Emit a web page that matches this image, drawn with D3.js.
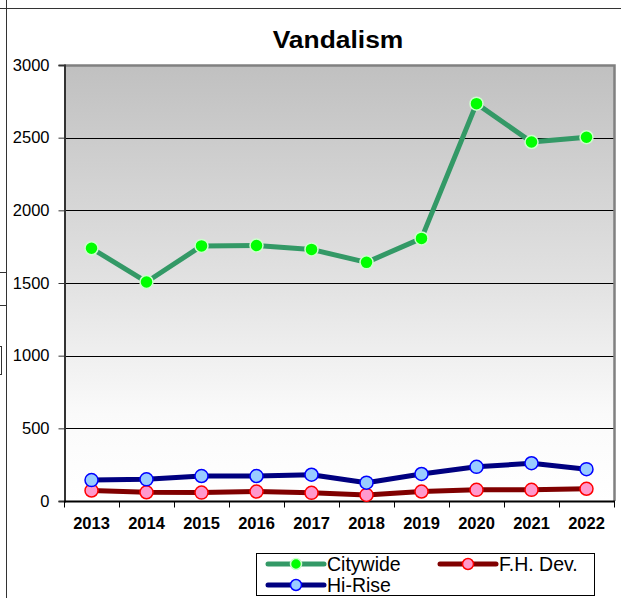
<!DOCTYPE html>
<html>
<head>
<meta charset="utf-8">
<script src="https://cdn.jsdelivr.net/npm/d3@7"></script>
<style>
  html, body { margin: 0; padding: 0; background: #fff; }
  svg { display: block; font-family: "Liberation Sans", Arial, sans-serif; }
</style>
</head>
<body>
<svg id="chart" width="621" height="598"></svg>
<script>
const years = ["2013","2014","2015","2016","2017","2018","2019","2020","2021","2022"];
const citywide = [1739, 1507, 1755, 1758, 1731, 1642, 1807, 2734, 2470, 2503];
const fhDev    = [72, 60, 58, 65, 56, 42, 65, 77, 77, 84];
const hiRise   = [144, 149, 172, 172, 181, 126, 186, 235, 260, 219];
const yTicks   = [0, 500, 1000, 1500, 2000, 2500, 3000];

const series = [
  { name: "Citywide", values: citywide, line: "#339966", fill: "#00ff00", stroke: "#ccffcc" },
  { name: "F.H. Dev.", values: fhDev,   line: "#800000", fill: "#ff99cc", stroke: "#ff0000" },
  { name: "Hi-Rise",  values: hiRise,   line: "#000080", fill: "#99ccff", stroke: "#0000ff" }
];

const svg = d3.select("#chart");
const plot = { left: 64, right: 614, top: 65, bottom: 501 };

// spreadsheet frame lines around the chart object
svg.append("line").attr("x1", 0).attr("x2", 621).attr("y1", 8.5).attr("y2", 8.5)
  .attr("stroke", "#333").attr("stroke-width", 1);
svg.append("line").attr("x1", 6.5).attr("x2", 6.5).attr("y1", 0).attr("y2", 598)
  .attr("stroke", "#333").attr("stroke-width", 1);
svg.append("line").attr("x1", 0).attr("x2", 6).attr("y1", 272.5).attr("y2", 272.5)
  .attr("stroke", "#333").attr("stroke-width", 1);
svg.append("line").attr("x1", 0).attr("x2", 6).attr("y1", 305.5).attr("y2", 305.5)
  .attr("stroke", "#333").attr("stroke-width", 1);
svg.append("rect").attr("x", -1).attr("y", 346.5).attr("width", 2.5).attr("height", 28)
  .attr("fill", "none").attr("stroke", "#333").attr("stroke-width", 1);

const x = d3.scaleBand().domain(years).range([plot.left, plot.right]);
const y = d3.scaleLinear().domain([0, 3000]).range([plot.bottom, plot.top]);

// plot area gradient
const defs = svg.append("defs");
const grad = defs.append("linearGradient").attr("id", "bg")
  .attr("x1", 0).attr("y1", 0).attr("x2", 0).attr("y2", 1);
grad.append("stop").attr("offset", "0%").attr("stop-color", "#c0c0c0");
grad.append("stop").attr("offset", "50%").attr("stop-color", "#e2e2e2");
grad.append("stop").attr("offset", "80%").attr("stop-color", "#fafafa");
grad.append("stop").attr("offset", "100%").attr("stop-color", "#ffffff");

svg.append("rect")
  .attr("x", plot.left).attr("y", plot.top)
  .attr("width", plot.right - plot.left).attr("height", plot.bottom - plot.top)
  .attr("fill", "url(#bg)");

// gridlines
svg.append("g").selectAll("line")
  .data(yTicks.filter(d => d > 0 && d < 3000))
  .join("line")
  .attr("x1", plot.left).attr("x2", plot.right)
  .attr("y1", d => Math.round(y(d)) + 0.5).attr("y2", d => Math.round(y(d)) + 0.5)
  .attr("stroke", "#000").attr("stroke-width", 1);

// plot border (top and right, grey)
svg.append("path")
  .attr("d", `M${plot.left},${plot.top + 0.5} H${plot.right + 0.5} V${plot.bottom}`)
  .attr("fill", "none").attr("stroke", "#808080").attr("stroke-width", 2.5);

// y axis
const yAxis = d3.axisLeft(y).tickValues(yTicks).tickSize(6).tickPadding(9).tickFormat(d3.format("d"));
const gy = svg.append("g").attr("transform", `translate(${plot.left + 0.5},0)`).call(yAxis);
gy.select(".domain").attr("stroke", "#333").attr("stroke-width", 2);
gy.selectAll(".tick line").attr("stroke", "#333");
gy.selectAll(".tick text").attr("font-size", 16.5).attr("fill", "#000")
  .attr("font-family", "'Liberation Sans', Arial, sans-serif");

// x axis: ticks at category boundaries
const gx = svg.append("g").attr("transform", `translate(0,${plot.bottom + 0.5})`);
gx.append("line").attr("x1", plot.left).attr("x2", plot.right + 1)
  .attr("stroke", "#000").attr("stroke-width", 2);
const bounds = years.map(d => x(d)).concat([x.range()[1]]);
gx.selectAll(".bt").data(bounds).join("line")
  .attr("x1", d => Math.round(d) + 0.5).attr("x2", d => Math.round(d) + 0.5)
  .attr("y1", 0).attr("y2", 6).attr("stroke", "#000");
gx.selectAll("text").data(years).join("text")
  .attr("x", d => x(d) + x.bandwidth() / 2)
  .attr("y", 27)
  .attr("text-anchor", "middle")
  .attr("font-size", 16.5).attr("font-weight", "bold")
  .text(d => d);

// series lines and markers
const line = d3.line()
  .x((d, i) => x(years[i]) + x.bandwidth() / 2)
  .y(d => y(d));

series.forEach(s => {
  svg.append("path").datum(s.values)
    .attr("d", line)
    .attr("fill", "none")
    .attr("stroke", s.line)
    .attr("stroke-width", 5)
    .attr("stroke-linejoin", "round");
  svg.append("g").selectAll("circle").data(s.values).join("circle")
    .attr("cx", (d, i) => x(years[i]) + x.bandwidth() / 2)
    .attr("cy", d => y(d))
    .attr("r", 6.5)
    .attr("fill", s.fill)
    .attr("stroke", s.stroke)
    .attr("stroke-width", 1.5);
});

// title
svg.append("text")
  .attr("transform", "translate(338,48) scale(1.1,1)")
  .attr("text-anchor", "middle")
  .attr("font-size", 24).attr("font-weight", "bold")
  .text("Vandalism");

// legend
const lg = svg.append("g");
lg.append("rect").attr("x", 256.5).attr("y", 553.5).attr("width", 338).attr("height", 42)
  .attr("fill", "#fff").attr("stroke", "#000").attr("stroke-width", 1);
const legendPos = [
  { x: 268, y: 564 },
  { x: 440, y: 564 },
  { x: 268, y: 585 }
];
series.forEach((s, i) => {
  const p = legendPos[i];
  lg.append("line").attr("x1", p.x).attr("x2", p.x + 56).attr("y1", p.y).attr("y2", p.y)
    .attr("stroke", s.line).attr("stroke-width", 5).attr("stroke-linecap", "round");
  lg.append("circle").attr("cx", p.x + 28).attr("cy", p.y).attr("r", 5.5)
    .attr("fill", s.fill).attr("stroke", s.stroke).attr("stroke-width", 1.5);
  lg.append("text").attr("x", p.x + 59).attr("y", p.y + 7)
    .attr("font-size", 19.5).text(s.name);
});
</script>
</body>
</html>
